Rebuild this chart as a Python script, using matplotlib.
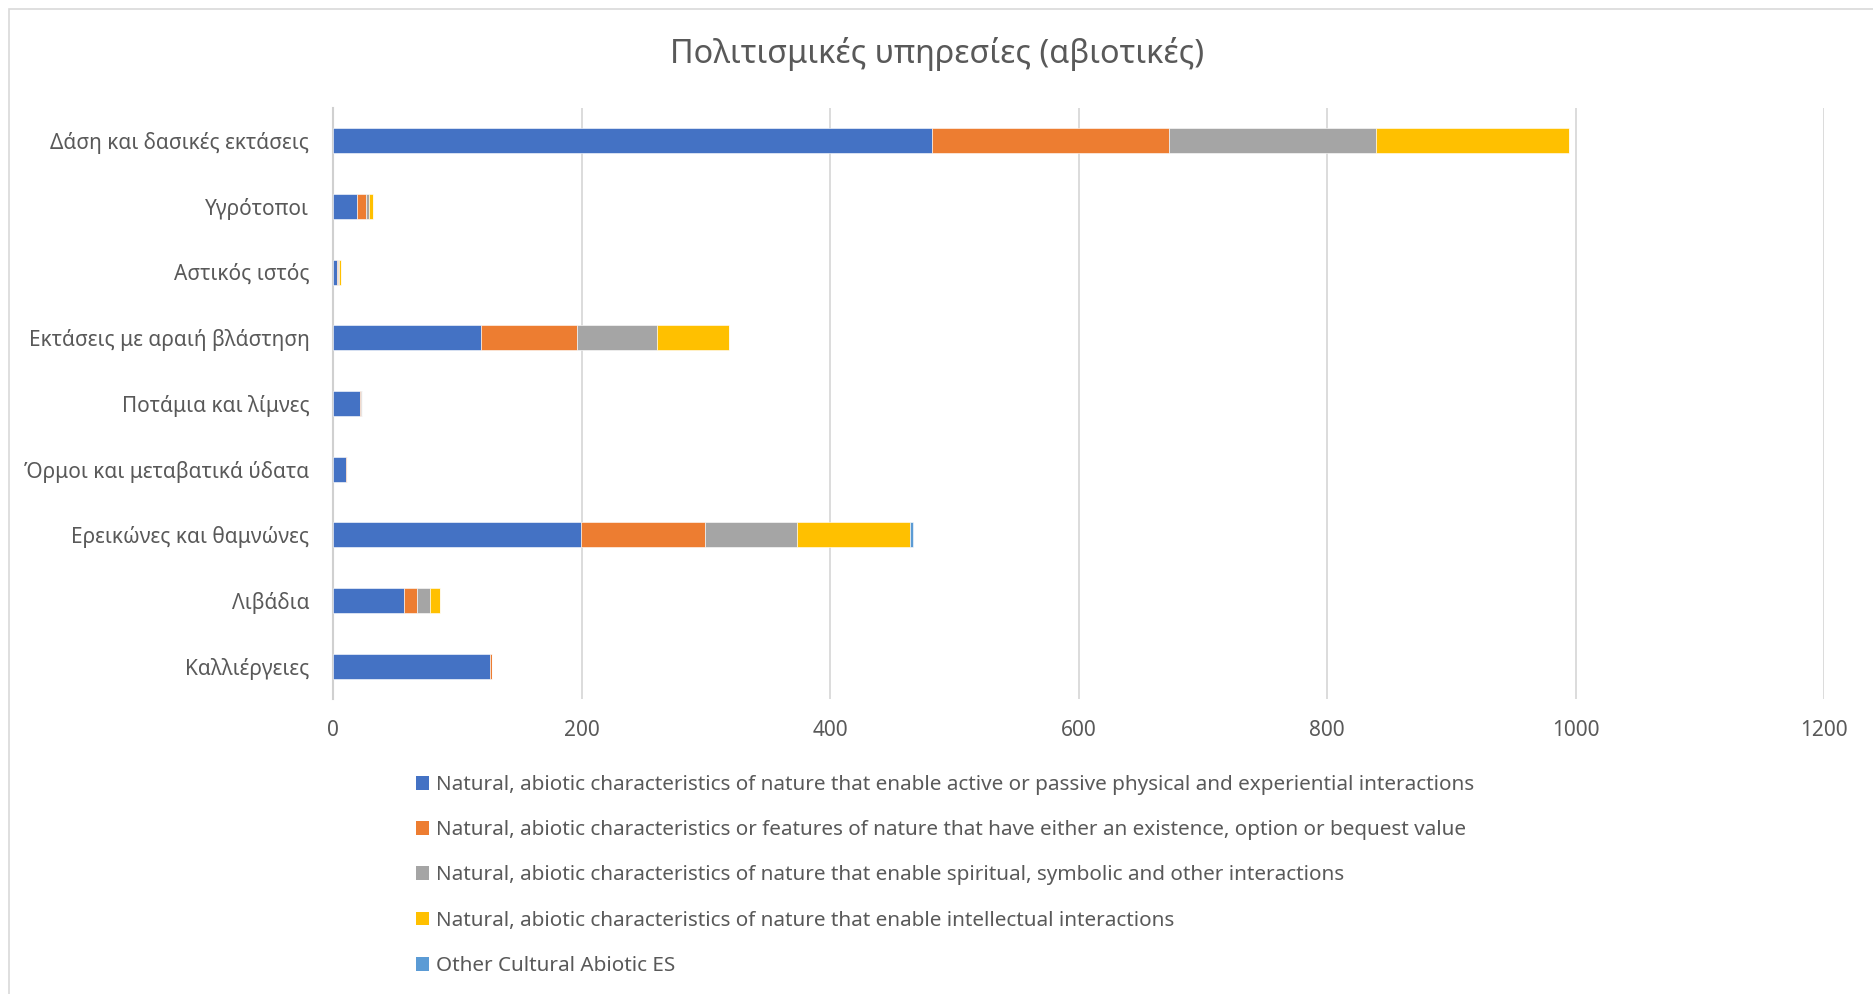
import matplotlib
matplotlib.use("Agg")
import matplotlib.pyplot as plt
from matplotlib.patches import Patch, Rectangle
import numpy as np

plt.rcParams['font.family'] = ['Noto Sans', 'DejaVu Sans']

# Land-cover categories, listed top to bottom
categories = [
    "Δάση και δασικές εκτάσεις",
    "Υγρότοποι",
    "Αστικός ιστός",
    "Εκτάσεις με αραιή βλάστηση",
    "Ποτάμια και λίμνες",
    "Όρμοι και μεταβατικά ύδατα",
    "Ερεικώνες και θαμνώνες",
    "Λιβάδια",
    "Καλλιέργειες",
]

series_names = [
    "Natural, abiotic characteristics of nature that enable active or passive physical and experiential interactions",
    "Natural, abiotic characteristics or features of nature that have either an existence, option or bequest value",
    "Natural, abiotic characteristics of nature that enable spiritual, symbolic and other interactions",
    "Natural, abiotic characteristics of nature that enable intellectual interactions",
    "Other Cultural Abiotic ES",
]

physical_experiential = [482, 19.5, 3.5, 119, 21.5, 10.8, 199.5, 57, 126]
existence_bequest = [190.5, 7, 0.6, 77.6, 1, 0.8, 100, 11, 2]
spiritual_symbolic = [166.6, 2.7, 0.5, 63.8, 0.7, 0, 74, 10, 0]
intellectual = [155.3, 3.2, 1.6, 58.6, 0, 0, 91, 8, 0]
other_cultural = [0, 0, 0, 0, 0, 0, 2, 0, 0]

x_ticks = [0, 200, 400, 600, 800, 1000, 1200]

colors = ["#4472C4", "#ED7D31", "#A5A5A5", "#FFC000", "#5B9BD5"]
text_color = "#595959"

W, H = 1874, 994
fig = plt.figure(figsize=(W / 100, H / 100), dpi=100)

# chart-area frame
fig.patches.append(Rectangle((9 / W, -0.01), 1.02, 1 - 9 / H + 0.01,
                             transform=fig.transFigure, fill=False,
                             edgecolor="#d9d9d9", linewidth=1.2))

ax = fig.add_axes([333 / W, 1 - 699 / H, (1824 - 333) / W, (699 - 108) / H])

y = np.arange(len(categories))
series = [physical_experiential, existence_bequest, spiritual_symbolic,
          intellectual, other_cultural]
left = np.zeros(len(categories))
for vals, col in zip(series, colors):
    vals = np.asarray(vals, dtype=float)
    ax.barh(y, vals, left=left, height=0.38, color=col, edgecolor="white",
            linewidth=0.4, zorder=3)
    left += vals

ax.set_ylim(len(categories) - 0.5, -0.5)
ax.set_xlim(0, 1200)
ax.set_xticks(x_ticks)
ax.set_xticklabels([str(t) for t in x_ticks])
ax.set_yticks(y)
ax.set_yticklabels(categories)
ax.tick_params(axis='both', length=0, labelsize=15, colors=text_color)
ax.tick_params(axis='x', pad=15)
ax.tick_params(axis='y', pad=17)
ax.grid(axis='x', color="#d9d9d9", linewidth=1.3, zorder=0)
for s in ["top", "right", "bottom"]:
    ax.spines[s].set_visible(False)
ax.spines["left"].set_color("#d0d0d0")
ax.spines["left"].set_linewidth(1.5)

fig.text(0.5, 1 - 54 / H, "Πολιτισμικές υπηρεσίες (αβιοτικές)",
         ha="center", va="center", fontsize=23.3, color=text_color)

handles = [Patch(facecolor=c, edgecolor="none") for c in colors]
leg = fig.legend(handles, series_names, loc="upper left",
                 bbox_to_anchor=(416 / W, 1 - 775 / H), frameon=False,
                 fontsize=14.9, labelcolor=text_color, handlelength=0.65,
                 handleheight=0.65, handletextpad=0.3, labelspacing=1.22,
                 borderaxespad=0, borderpad=0)

fig.savefig("out.png", dpi=100, facecolor="white")
